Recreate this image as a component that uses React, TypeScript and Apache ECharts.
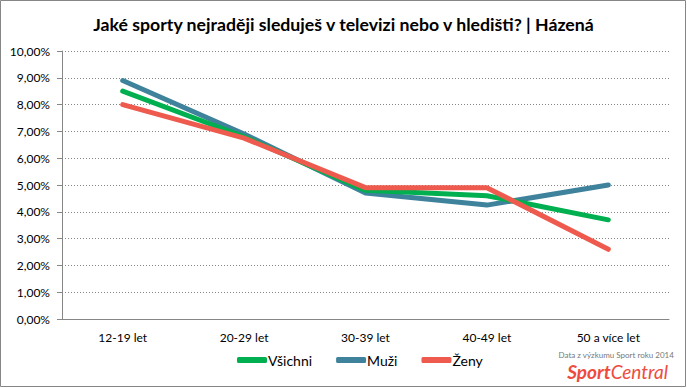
import React, { useEffect, useRef } from "react";
import * as echarts from "echarts";

const categories = ["12-19 let", "20-29 let", "30-39 let", "40-49 let", "50 a více let"];
const vsichni = [8.5, 6.8, 4.8, 4.6, 3.7];
const muzi = [8.9, 6.9, 4.7, 4.25, 5.0];
const zeny = [8.0, 6.75, 4.9, 4.9, 2.6];

const FONT = "Lato, 'Noto Sans', sans-serif";

export default function App() {
  const ref = useRef<HTMLDivElement>(null);
  useEffect(() => {
    if (!ref.current) return;
    const chart = echarts.init(ref.current, undefined, { renderer: "svg" });
    const mk = (name: string, data: number[], color: string, z: number) => ({
      name,
      type: "line",
      data,
      symbol: "none",
      z,
      lineStyle: { width: 5, color, cap: "round", join: "round" },
      itemStyle: { color },
    });
    chart.setOption({
      animation: false,
      backgroundColor: "#ffffff",
      textStyle: { fontFamily: FONT },
      title: {
        text: "Jaké sporty nejraději sleduješ v televizi nebo v hledišti? | Házená",
        left: "center",
        top: 10,
        textStyle: { fontFamily: FONT, fontSize: 17.7, fontWeight: "bold", color: "#000" },
      },
      grid: { left: 62, right: 18, top: 51, bottom: 69 },
      legend: {
        bottom: 16,
        left: 232,
        itemWidth: 30,
        itemHeight: 6,
        itemGap: 24,
        icon: "roundRect",
        textStyle: { fontFamily: FONT, fontSize: 14, color: "#000", padding: [0, 0, 0, -4] },
        data: ["Všichni", "Muži", "Ženy"],
      },
      xAxis: {
        type: "category",
        data: categories,
        boundaryGap: true,
        axisLine: { lineStyle: { color: "#868686", width: 1 } },
        axisTick: { length: 5, lineStyle: { color: "#868686" } },
        axisLabel: { margin: 12, fontSize: 12, color: "#000", fontFamily: FONT },
      },
      yAxis: {
        type: "value",
        min: 0,
        max: 10,
        interval: 1,
        axisLine: { show: true, lineStyle: { color: "#868686", width: 1 } },
        axisTick: { show: true, length: 5, lineStyle: { color: "#868686" } },
        splitLine: { lineStyle: { color: "#868686", type: [1, 2], width: 1 } },
        axisLabel: {
          margin: 12,
          fontSize: 12,
          color: "#000",
          fontFamily: FONT,
          formatter: (v: number) => v.toFixed(2).replace(".", ",") + "%",
        },
      },
      series: [
        mk("Všichni", vsichni, "#00b050", 3),
        mk("Muži", muzi, "#3f829c", 2),
        mk("Ženy", zeny, "#ee5a4e", 4),
      ],
      graphic: [
        {
          type: "rect",
          shape: { x: 0.5, y: 0.5, width: 685, height: 386 },
          style: { fill: "none", stroke: "#868686", lineWidth: 1 },
          z: 100,
        },
        {
          type: "text",
          right: 13,
          top: 351,
          style: {
            text: "Data z výzkumu Sport roku 2014",
            font: "8px " + FONT,
            fill: "#777",
          },
        },
        {
          type: "text",
          right: 19,
          top: 362,
          style: {
            text: "{a|Sport}{b|Central}",
            rich: {
              a: { fontFamily: FONT, fontSize: 19, fontStyle: "italic", fontWeight: "bold", fill: "#ee4b3e" },
              b: { fontFamily: FONT, fontSize: 19, fontStyle: "italic", fontWeight: "normal", fill: "#ee4b3e" },
            },
          },
        },
      ],
    });
    return () => chart.dispose();
  }, []);
  return <div ref={ref} style={{ width: 687, height: 388, position: "absolute", left: 0, top: 0 }} />;
}
